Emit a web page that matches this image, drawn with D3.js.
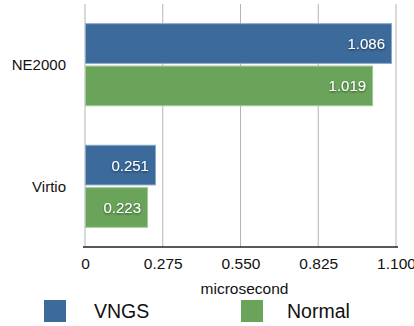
<!DOCTYPE html>
<html>
<head>
<meta charset="utf-8">
<script src="https://cdn.jsdelivr.net/npm/d3@7"></script>
<style>
  html, body { margin: 0; padding: 0; background: #fff; overflow: hidden; }
  svg { display: block; font-family: "Liberation Sans", Arial, Helvetica, sans-serif; }
</style>
</head>
<body>
<svg id="chart" width="414" height="326"></svg>
<script>
const categories = ["NE2000", "Virtio"];
const seriesNames = ["VNGS", "Normal"];
const vngsValues = [1.086, 0.251];
const normalValues = [1.019, 0.223];
const tickValues = [0, 0.275, 0.55, 0.825, 1.1];
const tickLabels = ["0", "0.275", "0.550", "0.825", "1.100"];
const seriesColors = ["#3b6a9b", "#6aa45b"];
const seriesBorders = ["#8aa7c6", "#a3c898"];

const svg = d3.select("#chart");

const x = d3.scaleLinear().domain([0, 1.1]).range([85, 396]);
const y = d3.scaleBand().domain(categories).range([4, 247]).paddingInner(0.317).paddingOuter(0.158);
const ySeries = d3.scaleBand().domain(seriesNames).range([0, y.bandwidth()]).paddingInner(0.04);

const defs = svg.append("defs");
const shadow = defs.append("filter").attr("id", "txtShadow").attr("x", "-20%").attr("y", "-40%").attr("width", "140%").attr("height", "180%");
shadow.append("feDropShadow").attr("dx", 0).attr("dy", 1).attr("stdDeviation", 1).attr("flood-color", "#000").attr("flood-opacity", 0.55);

// vertical grid lines
svg.append("g")
  .selectAll("line")
  .data(tickValues)
  .join("line")
  .attr("x1", d => x(d)).attr("x2", d => x(d))
  .attr("y1", 4).attr("y2", 247)
  .attr("stroke", "#b4b4b4").attr("stroke-width", 1);

const rows = categories.map((c, i) => [
  { cat: c, s: 0, v: vngsValues[i] },
  { cat: c, s: 1, v: normalValues[i] }
]).flat();

// bars
svg.append("g")
  .selectAll("rect")
  .data(rows)
  .join("rect")
  .attr("x", x(0) + 0.5)
  .attr("y", d => y(d.cat) + ySeries(seriesNames[d.s]) + 0.5)
  .attr("width", d => x(d.v) - x(0) - 1)
  .attr("height", ySeries.bandwidth() - 1)
  .attr("fill", d => seriesColors[d.s])
  .attr("stroke", d => seriesBorders[d.s])
  .attr("stroke-width", 1);

// value labels
svg.append("g")
  .selectAll("text")
  .data(rows)
  .join("text")
  .attr("x", d => x(d.v) - 7)
  .attr("y", d => y(d.cat) + ySeries(seriesNames[d.s]) + ySeries.bandwidth() / 2)
  .attr("dy", "0.36em")
  .attr("text-anchor", "end")
  .attr("fill", "#fff")
  .attr("font-size", 15)
  .attr("filter", "url(#txtShadow)")
  .text(d => d.v.toFixed(3));

// category labels
svg.append("g")
  .selectAll("text")
  .data(categories)
  .join("text")
  .attr("x", 66)
  .attr("y", d => y(d) + y.bandwidth() / 2)
  .attr("dy", "0.36em")
  .attr("text-anchor", "end")
  .attr("fill", "#111")
  .attr("font-size", 15)
  .text(d => d);

// x axis
const xAxis = d3.axisBottom(x)
  .tickValues(tickValues)
  .tickFormat((d, i) => tickLabels[i])
  .tickSize(0)
  .tickPadding(11);
const gx = svg.append("g").attr("transform", "translate(0,247)").call(xAxis);
gx.select(".domain").attr("stroke", "#222").attr("stroke-width", 1.5).attr("d", `M${x(0) - 2},0H${x(1.1) + 2}`);
gx.selectAll("text").attr("font-size", 15.5).attr("fill", "#111").attr("font-family", "Liberation Sans, Arial, sans-serif");

svg.append("text")
  .attr("x", x(0.55) + 4).attr("y", 288)
  .attr("dy", "0.36em")
  .attr("text-anchor", "middle")
  .attr("font-size", 15.5)
  .attr("fill", "#111")
  .text("microsecond");

// legend
const legend = svg.append("g")
  .selectAll("g")
  .data(seriesNames)
  .join("g")
  .attr("transform", (d, i) => `translate(${[44, 241][i]},300)`);
legend.append("rect")
  .attr("width", 22).attr("height", 22)
  .attr("fill", (d, i) => seriesColors[i]);
legend.append("text")
  .attr("x", (d, i) => [50, 46][i]).attr("y", 11)
  .attr("dy", "0.36em")
  .attr("font-size", 19.5)
  .attr("fill", "#111")
  .text(d => d);
</script>
</body>
</html>
